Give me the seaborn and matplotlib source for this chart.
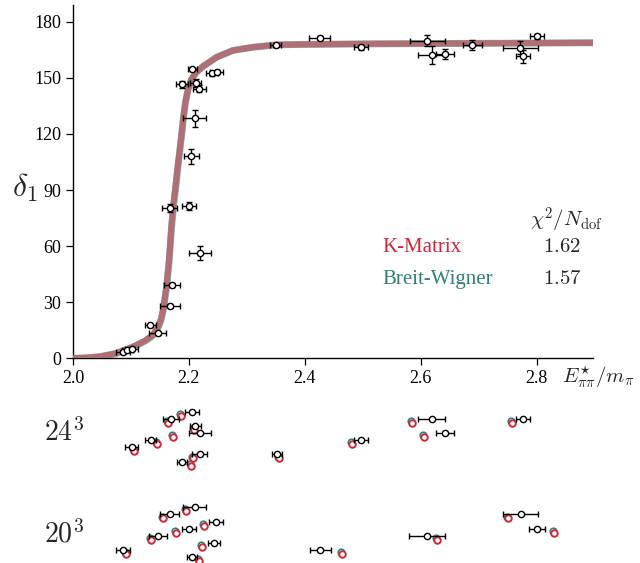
import seaborn as sns
import matplotlib.pyplot as plt
import pandas as pd
import numpy as np

# phase-shift data points
e_data = [2.086, 2.094, 2.101, 2.133, 2.146, 2.167, 2.170, 2.167, 2.200, 2.219,
          2.204, 2.210, 2.2057, 2.1885, 2.2115, 2.218, 2.240, 2.248, 2.350, 2.426,
          2.497, 2.611, 2.619, 2.642, 2.689, 2.772, 2.776, 2.800]
e_err = [0.012, 0.010, 0.011, 0.0095, 0.015, 0.0175, 0.0138, 0.0126, 0.0118, 0.0187,
         0.0126, 0.020, 0.0078, 0.010, 0.009, 0.011, 0.010, 0.0115, 0.0095, 0.018,
         0.012, 0.030, 0.023, 0.015, 0.017, 0.030, 0.0126, 0.012]
d_data = [3.2, 4.3, 5.1, 17.8, 13.3, 27.9, 39.3, 80.5, 81.4, 56.3,
          108.2, 128.3, 154.5, 146.5, 147.4, 144.2, 152.4, 153.1, 167.4, 171.3,
          166.3, 170.0, 162.2, 162.9, 167.7, 166.1, 161.5, 172.2]
d_err = [0.6, 0.6, 0.8, 0.8, 0.8, 1.2, 1.0, 2.0, 2.0, 3.6,
         4.0, 4.6, 1.0, 1.8, 2.0, 2.0, 1.2, 1.2, 0.8, 1.0,
         1.2, 2.8, 4.8, 2.6, 2.8, 3.4, 3.6, 1.5]

# fitted curves (K-matrix and Breit-Wigner)
curve_e = [2.0, 2.025, 2.0466, 2.075, 2.104, 2.125, 2.138, 2.147, 2.152, 2.156,
           2.1615, 2.166, 2.170, 2.1735, 2.177, 2.1805, 2.184, 2.1874, 2.1905, 2.194,
           2.199, 2.204, 2.212, 2.225, 2.248, 2.276, 2.31, 2.351, 2.391, 2.5,
           2.7, 2.897]
km_delta = [0.0, 0.3, 0.9, 2.7, 6.2, 9.5, 12.5, 16.9, 21.0, 26.7,
            39.2, 53.4, 71.2, 83.0, 92.0, 102.0, 111.0, 120.0, 129.0, 137.0,
            144.5, 149.0, 152.8, 156.3, 161.1, 164.7, 166.4, 167.7, 167.9, 168.2,
            168.5, 168.8]
bw_delta = [0.0, 0.3, 0.9, 2.6, 6.0, 9.3, 12.2, 16.5, 20.5, 26.0,
            38.0, 52.0, 69.5, 81.5, 90.5, 100.8, 110.0, 119.3, 128.5, 136.8,
            144.3, 149.0, 152.8, 156.3, 161.1, 164.7, 166.4, 167.7, 167.9, 168.2,
            168.5, 168.8]

# finite-volume spectra: slot (row), lattice energy, error, K-matrix prediction
slot_24 = [0, 1, 1, 1, 2, 3, 3, 4, 4, 5, 6, 6, 7]
e_24 = [2.2047, 2.1695, 2.619, 2.777, 2.2112, 2.219, 2.6419, 2.134, 2.497, 2.1012, 2.219, 2.3522, 2.1879]
err_24 = [0.012, 0.0138, 0.023, 0.012, 0.0095, 0.019, 0.0155, 0.0092, 0.012, 0.0115, 0.013, 0.0086, 0.008]
km_24 = [2.1862, 2.1633, 2.5845, 2.7574, 2.2091, 2.1724, 2.6047, 2.1453, 2.481, 2.1047, 2.2064, 2.3547, 2.2034]

slot_20 = [0, 1, 1, 2, 3, 3, 4, 4, 5, 6, 6, 7]
e_20 = [2.2103, 2.1667, 2.7724, 2.2471, 2.2, 2.80, 2.1466, 2.6109, 2.2426, 2.0862, 2.4264, 2.2057]
err_20 = [0.020, 0.017, 0.030, 0.012, 0.012, 0.0138, 0.0155, 0.031, 0.0103, 0.012, 0.018, 0.0086]
km_20 = [2.1943, 2.1547, 2.751, 2.2259, 2.1776, 2.8293, 2.135, 2.6276, 2.2224, 2.0919, 2.4633, 2.2178]

KM_COL = "#d0283a"
BW_COL = "#2e8079"

sns.set_style("ticks")
plt.rcParams["font.family"] = ["Liberation Serif", "DejaVu Serif"]
plt.rcParams["mathtext.fontset"] = "cm"

fig = plt.figure(figsize=(6.4, 5.63), dpi=100)
ax = fig.add_axes([0.114, 0.3636, 0.8125, 0.6275])

curves = pd.DataFrame({"E": curve_e * 2, "delta": bw_delta + km_delta,
                       "fit": ["BW"] * len(curve_e) + ["KM"] * len(curve_e)})
sns.lineplot(data=curves[curves.fit == "BW"], x="E", y="delta", ax=ax,
             color="#8cbab6", lw=5.0, sort=False, zorder=2)
sns.lineplot(data=curves[curves.fit == "KM"], x="E", y="delta", ax=ax,
             color="#b06f74", lw=4.4, sort=False, zorder=3)

ax.errorbar(e_data, d_data, xerr=e_err, yerr=d_err, fmt="o", ms=4.5, mfc="white",
            mec="black", mew=1.0, ecolor="black", elinewidth=1.0, capsize=2.2,
            capthick=1.0, zorder=5)

ax.set_xlim(2.0, 2.897)
ax.set_ylim(0, 189)
ax.set_xticks([2.0, 2.2, 2.4, 2.6, 2.8])
ax.set_xticklabels(["2.0", "2.2", "2.4", "2.6", "2.8"], family="Liberation Serif")
ax.set_yticks([0, 30, 60, 90, 120, 150, 180])
ax.set_yticklabels(["0", "30", "60", "90", "120", "150", "180"], family="Liberation Serif")
ax.set_xlabel("")
ax.set_ylabel("")
ax.tick_params(labelsize=13, length=5, width=0.9, color="black", labelcolor="black")
sns.despine(ax=ax)
for s in ["left", "bottom"]:
    ax.spines[s].set_color("black")
    ax.spines[s].set_linewidth(1.0)

fig.text(0.038, 0.666, r"$\delta_1$", fontsize=23, ha="center", va="center")
fig.text(0.878, 1 - 377 / 563, r"$E^{\star}_{\pi\pi}/m_\pi$", fontsize=15, ha="left", va="center")

fig.text(0.828, 0.609, r"$\chi^2/N_{\rm dof}$", fontsize=15, ha="left", va="center")
fig.text(0.598, 0.561, "K-Matrix", fontsize=15, color=KM_COL, ha="left", va="center")
fig.text(0.598, 0.504, "Breit-Wigner", fontsize=15, color=BW_COL, ha="left", va="center")
fig.text(0.848, 0.561, r"$1.62$", fontsize=15, ha="left", va="center")
fig.text(0.848, 0.504, r"$1.57$", fontsize=15, ha="left", va="center")

# lower panel: spectra
ax2 = fig.add_axes([0.114, 0.0, 0.8125, 0.2984])
ax2.set_xlim(2.0, 2.897)
ax2.set_ylim(21.2, -2.31)
ax2.axis("off")

base_20 = 13.4
for slots, e, err, km, base in [(slot_24, e_24, err_24, km_24, 0.0),
                                (slot_20, e_20, err_20, km_20, base_20)]:
    y = np.array(slots) + base
    sns.scatterplot(x=np.array(km) - 0.0017, y=y + 0.3, ax=ax2, marker="o", s=22,
                    color="white", edgecolor=BW_COL, linewidth=1.2, zorder=3)
    sns.scatterplot(x=km, y=y + 0.56, ax=ax2, marker="o", s=22,
                    color="white", edgecolor=KM_COL, linewidth=1.4, zorder=4)
    ax2.errorbar(e, y, xerr=err, fmt="o", ms=4.5, mfc="white", mec="black", mew=1.0,
                 ecolor="black", elinewidth=1.0, capsize=2.2, capthick=1.0, zorder=5)

fig.text(0.068, 1 - 433 / 563, r"$24^3$", fontsize=20, ha="left", va="center")
fig.text(0.068, 1 - 534 / 563, r"$20^3$", fontsize=20, ha="left", va="center")

fig.savefig("out.png", dpi=100)
